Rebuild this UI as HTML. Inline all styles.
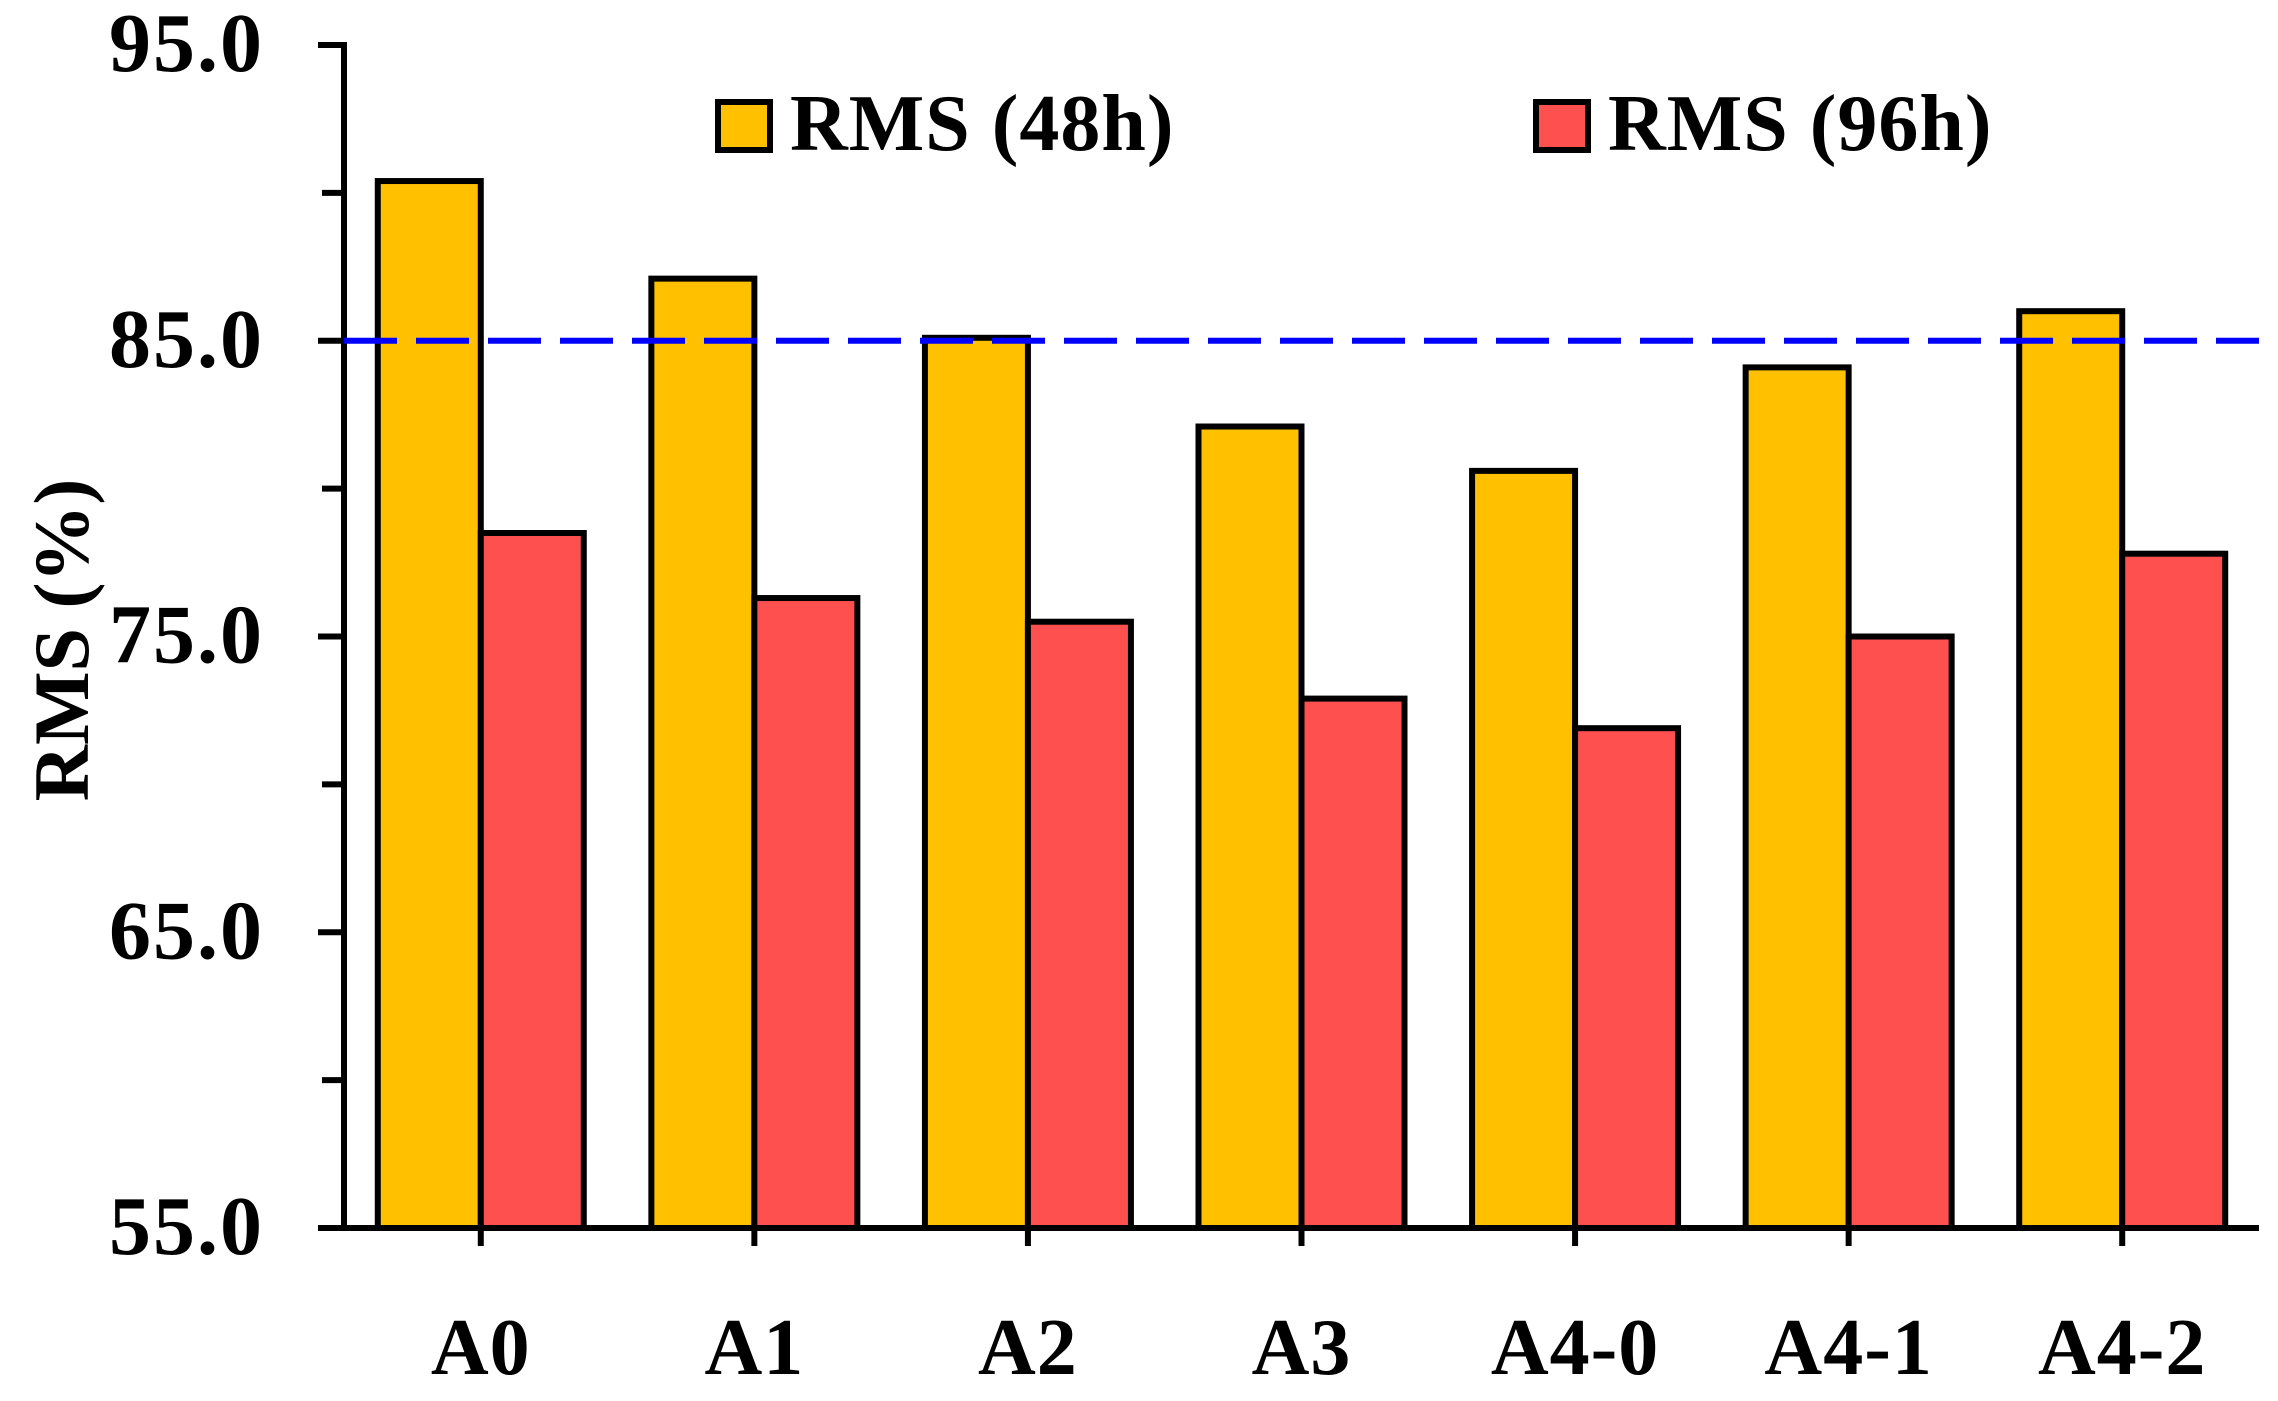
<!DOCTYPE html>
<html><head><meta charset="utf-8"><style>
html,body{margin:0;padding:0;background:#fff;}
svg{display:block;font-family:"Liberation Serif",serif;font-weight:bold;}
</style></head><body>
<svg id="chart" width="2278" height="1401" viewBox="0 0 2278 1401">
<g id="axes"></g>
<g id="bars"></g>
<g id="legend">
  <rect x="718" y="102" width="52" height="48" fill="#FFC000" stroke="#000" stroke-width="6"/>
  <text x="790" y="150" font-size="80" letter-spacing="1">RMS (48h)</text>
  <rect x="1536" y="102" width="52" height="48" fill="#FF5050" stroke="#000" stroke-width="6"/>
  <text x="1608" y="150" font-size="80" letter-spacing="1">RMS (96h)</text>
</g>
<text transform="translate(88,640) rotate(-90)" text-anchor="middle" font-size="78">RMS (%)</text>
</svg>
<script>
const categories = ["A0","A1","A2","A3","A4-0","A4-1","A4-2"];
const rms48 = [90.4, 87.1, 85.1, 82.1, 80.6, 84.1, 86.0];
const rms96 = [78.5, 76.3, 75.5, 72.9, 71.9, 75.0, 77.8];
const yTicks = [55, 65, 75, 85, 95];
const yTickLabels = ["55.0","65.0","75.0","85.0","95.0"];
const yMinorTicks = [60, 70, 80, 90];
const threshold = 85;

const NS = "http://www.w3.org/2000/svg";
const X0 = 344, X1 = 2259, Y0 = 1228, Y1 = 45, YMIN = 55, YMAX = 95;
const catW = (X1 - X0) / categories.length;
function y(v){ return Y0 - (v - YMIN) / (YMAX - YMIN) * (Y0 - Y1); }
function xc(i){ return X0 + catW * (i + 0.5); }
function mk(tag, attrs, parent){
  const el = document.createElementNS(NS, tag);
  for (const k in attrs) el.setAttribute(k, attrs[k]);
  parent.appendChild(el);
  return el;
}
const axes = document.getElementById("axes");
const bars = document.getElementById("bars");
const barW = 103;

categories.forEach((c, i) => {
  const cx = xc(i);
  const b1 = mk("rect", {x: cx - barW, y: y(rms48[i]), width: barW, height: Y0 - y(rms48[i]), fill: "#FFC000", stroke: "#000", "stroke-width": 6}, bars);
  
  
  const b2 = mk("rect", {x: cx, y: y(rms96[i]), width: barW, height: Y0 - y(rms96[i]), fill: "#FF5050", stroke: "#000", "stroke-width": 6}, bars);
  
  
  const t = mk("line", {x1: cx, x2: cx, y1: Y0, y2: Y0 + 18, stroke: "#000", "stroke-width": 6}, axes);
  
  
  const lb = mk("text", {x: cx, y: 1374, "text-anchor": "middle", "font-size": 80, "letter-spacing": 1}, axes);
  lb.textContent = c;
  
  
});

const th = mk("line", {x1: X0, x2: X1, y1: y(threshold), y2: y(threshold), stroke: "#0000FF", "stroke-width": 6, "stroke-dasharray": "53 19"}, bars);



const ya = mk("line", {x1: X0, x2: X0, y1: Y1 - 3, y2: Y0, stroke: "#000", "stroke-width": 6}, axes);


const xa = mk("line", {x1: 318, x2: X1, y1: Y0, y2: Y0, stroke: "#000", "stroke-width": 6}, axes);



yTicks.forEach((v, i) => {
  const t = mk("line", {x1: X0 - 26, x2: X0, y1: y(v), y2: y(v), stroke: "#000", "stroke-width": 6}, axes);
  
  
  const lb = mk("text", {x: 264, y: y(v) + 26, "text-anchor": "end", "font-size": 84, "letter-spacing": 2}, axes);
  lb.textContent = yTickLabels[i];
  
  
});
yMinorTicks.forEach(v => {
  const t = mk("line", {x1: X0 - 22, x2: X0, y1: y(v), y2: y(v), stroke: "#000", "stroke-width": 6}, axes);
  
  
});
</script>
</body></html>
